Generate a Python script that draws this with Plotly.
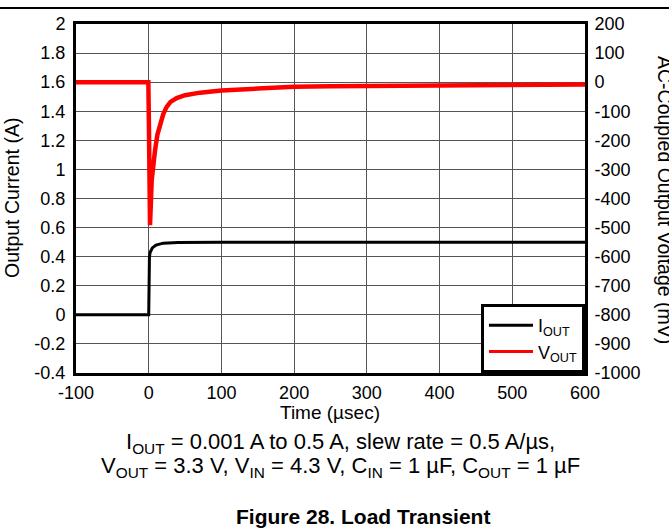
import plotly.graph_objects as go

# ---- data ----
t_iout = [-100, -50, 0, 1, 2, 5, 10, 20, 40, 100, 200, 300, 400, 500, 600]
iout_a = [0.0, 0.0, 0.0, 0.40, 0.43, 0.46, 0.48, 0.493, 0.498, 0.5, 0.5, 0.502, 0.5, 0.5, 0.5]

t_vout = [-100, -60, -20, -0.5, 0.3, 1.0, 1.8, 2.6, 4.1, 6.0, 8.7, 12.0, 15.5, 20.0, 24.7,
          30.0, 38.5, 50.0, 70.6, 100, 150, 200, 250, 300, 350, 400, 450, 500, 550, 600]
vout_mv = [0, 0, 0, 0, -150, -380, -492, -440, -337, -280, -234, -180, -142, -110, -85,
           -68, -55, -45, -36, -29, -22, -16, -14, -13, -12, -11, -10, -9, -9, -8]

x_tick_vals = [-100, 0, 100, 200, 300, 400, 500, 600]
x_tick_text = ["-100", "0", "100", "200", "300", "400", "500", "600"]
y_tick_vals = [2, 1.8, 1.6, 1.4, 1.2, 1, 0.8, 0.6, 0.4, 0.2, 0, -0.2, -0.4]
y_tick_text = ["2", "1.8", "1.6", "1.4", "1.2", "1", "0.8", "0.6", "0.4", "0.2", "0", "-0.2", "-0.4"]
y2_tick_vals = [200, 100, 0, -100, -200, -300, -400, -500, -600, -700, -800, -900, -1000]
y2_tick_text = ["200", "100", "0", "-100", "-200", "-300", "-400", "-500", "-600", "-700", "-800", "-900", "-1000"]

FONT = "Liberation Sans, Arial, sans-serif"

fig = go.Figure()
fig.add_trace(go.Scatter(x=t_iout, y=iout_a, mode="lines", name="I<sub>OUT</sub>",
                         line=dict(color="black", width=3), yaxis="y", showlegend=False))
fig.add_trace(go.Scatter(x=t_vout, y=vout_mv, mode="lines", name="V<sub>OUT</sub>",
                         line=dict(color="#ff0000", width=4.5), yaxis="y2", showlegend=False))
# legend entries (thinner sample lines, as in the reference legend)
fig.add_trace(go.Scatter(x=[None], y=[None], mode="lines", name="I<sub>OUT</sub>",
                         line=dict(color="black", width=3), yaxis="y"))
fig.add_trace(go.Scatter(x=[None], y=[None], mode="lines", name="V<sub>OUT</sub>",
                         line=dict(color="#ff0000", width=3), yaxis="y2"))

axis_common = dict(showline=True, linecolor="black", linewidth=3, zeroline=False, automargin=False,
                   tickfont=dict(family=FONT, size=18, color="black"),
                   ticks="outside", tickcolor="rgba(0,0,0,0)")

fig.update_layout(
    width=669, height=529,
    margin=dict(l=76, r=84, t=24, b=156, autoexpand=False),
    paper_bgcolor="white", plot_bgcolor="white",
    font=dict(family=FONT, color="black"),
    xaxis=dict(range=[-100, 600], tickvals=x_tick_vals, ticktext=x_tick_text, ticklen=1,
               showgrid=True, gridcolor="#555555", gridwidth=1, mirror=True, **axis_common),
    yaxis=dict(range=[-0.4, 2], tickvals=y_tick_vals, ticktext=y_tick_text, ticklen=4,
               showgrid=True, gridcolor="#555555", gridwidth=1, mirror=True, **axis_common),
    yaxis2=dict(range=[-1000, 200], tickvals=y2_tick_vals, ticktext=y2_tick_text, ticklen=3,
                overlaying="y", side="right", showgrid=False, **axis_common),
    legend=dict(x=1, y=0, xanchor="right", yanchor="bottom", itemwidth=44,
                bgcolor="white", bordercolor="black", borderwidth=3,
                font=dict(family=FONT, size=18, color="black"), tracegroupgap=0),
    showlegend=True,
)

def py(p):
    return (373 - p) / 349.0

def px(p):
    return (p - 76) / 509.0

annotations = [
    dict(text="Time (µsec)", x=px(330), y=py(412), font=dict(size=19)),
    dict(text="I<sub>OUT</sub> = 0.001 A to 0.5 A, slew rate = 0.5 A/µs,",
         x=px(340), y=py(443), font=dict(size=22)),
    dict(text="V<sub>OUT</sub> = 3.3 V, V<sub>IN</sub> = 4.3 V, C<sub>IN</sub> = 1 µF, C<sub>OUT</sub> = 1 µF",
         x=px(340), y=py(467), font=dict(size=22)),
    dict(text="<b>Figure 28. Load Transient</b>", x=px(363), y=py(516), font=dict(size=21)),
    dict(text="Output Current (A)", x=px(12), y=py(198), textangle=-90, font=dict(size=19.5)),
    dict(text="AC-Coupled Output Voltage (mV)", x=px(665), y=py(200), textangle=90, font=dict(size=19.5)),
]
for a in annotations:
    a.update(xref="paper", yref="paper", showarrow=False, xanchor="center", yanchor="middle")
    a["font"].update(family=FONT, color="black")
fig.update_layout(annotations=annotations)

fig.add_shape(type="line", xref="paper", yref="paper", x0=-0.3, x1=1.3, y0=py(8), y1=py(8),
              line=dict(color="black", width=2))

fig.write_html("out.html", config={"displayModeBar": False},
               post_script="document.body.style.margin='0';document.body.style.overflow='hidden';")
